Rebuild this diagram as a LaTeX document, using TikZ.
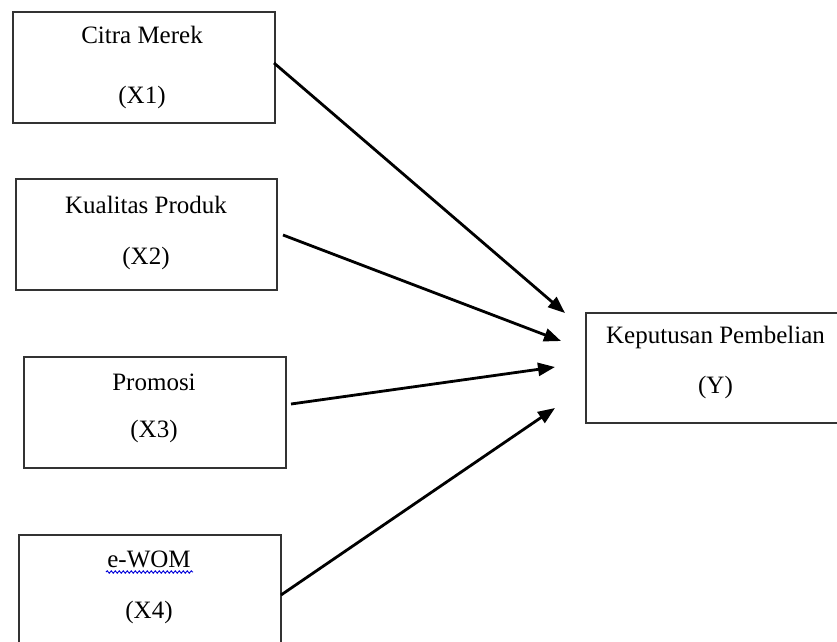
\documentclass[tikz,border=0pt]{standalone}
\usepackage{fontspec}
\setmainfont{Liberation Serif}
\usetikzlibrary{arrows.meta,decorations.pathmorphing}
\tikzset{
  varbox/.style={draw=black!80, line width=1.6pt, minimum width=262pt, minimum height=111pt, inner sep=0pt, fill=none},
  vtext/.style={font=\fontsize{25}{28}\selectfont, anchor=base, inner sep=0pt},
  link/.style={line width=2.8pt, -{Triangle[length=17pt,width=13pt]}},
  squiggle/.style={draw=blue!85!black, line width=0.9pt, decorate, decoration={snake, amplitude=1.2pt, segment length=4pt}}
}
\begin{document}
\begin{tikzpicture}[x=1pt,y=-1pt]
\useasboundingbox (0,0) rectangle (837,641);
\clip (0,0) rectangle (837,641);
% boxes
\node[varbox] (x1) at (144,67.5) {};
\node[varbox, minimum width=261pt] (x2) at (146.5,234.5) {};
\node[varbox] (x3) at (155,412.5) {};
\node[varbox] (x4) at (150,590.5) {};
\node[varbox, minimum width=320pt, minimum height=110pt] (y) at (746,368) {};
% texts
\node[vtext] (x1a) at (142,43) {Citra Merek};
\node[vtext] (x1b) at (142,103) {(X1)};
\node[vtext] (x2a) at (146,213) {Kualitas Produk};
\node[vtext] (x2b) at (146,264) {(X2)};
\node[vtext] (x3a) at (154,390) {Promosi};
\node[vtext] (x3b) at (154,437) {(X3)};
\node[vtext] (x4a) at (149,567) {e-WOM};
\node[vtext] (x4b) at (149,618) {(X4)};
\node[vtext] (ya) at (715.5,343) {Keputusan Pembelian};
\node[vtext] (yb) at (715.5,393) {(Y)};
% spell-check underline
\coordinate (sqa) at (106,572);
\coordinate (sqb) at (193,572);
\draw[squiggle] (sqa) -- (sqb);
% arrow end points
\coordinate (s1) at (274,63);
\coordinate (s2) at (283,235);
\coordinate (s3) at (291,404);
\coordinate (s4) at (281,595);
\coordinate (t1) at (565,313);
\coordinate (t2) at (561,341);
\coordinate (t3) at (555,367);
\coordinate (t4) at (555,408);
\draw[link] (s1) -- (t1);
\draw[link] (s2) -- (t2);
\draw[link] (s3) -- (t3);
\draw[link] (s4) -- (t4);
\end{tikzpicture}
\end{document}
